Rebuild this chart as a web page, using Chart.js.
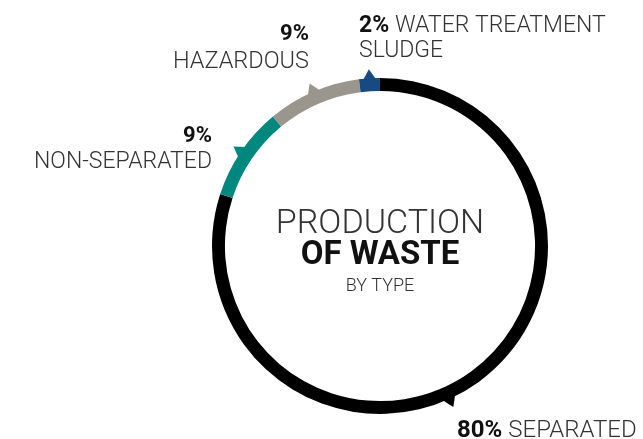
<!DOCTYPE html>
<html>
<head>
<meta charset="utf-8">
<title>Production of waste by type</title>
<script src="https://cdn.jsdelivr.net/npm/chart.js@4/dist/chart.umd.min.js"></script>
<style>
    body { margin: 0; background: #fff; }
    #wrap { width: 643px; height: 439px; }
</style>
</head>
<body>
<div id="wrap"><canvas id="waste" width="643" height="439"></canvas></div>
<script>
// 数据
const categories = ['SEPARATED', 'NON-SEPARATED', 'HAZARDOUS', 'WATER TREATMENT SLUDGE'];
const shares = [80, 9, 9, 2];
const labelLines = [['SEPARATED'], ['NON-SEPARATED'], ['HAZARDOUS'], ['WATER TREATMENT', 'SLUDGE']];
const segmentColors = ['#000000', '#00877e', '#9b968d', '#164a80'];
const centerTitle = ['PRODUCTION', 'OF WASTE', 'BY TYPE'];

const LIGHT = '300 ';
const FONT = '"Roboto", "Open Sans", sans-serif';

// 小三角标记 + 文字
const wastePlugin = {
    id: 'wasteDecor',
    afterDatasetsDraw: function(chart, args, opts) {
        const ctx = chart.ctx;
        const arcs = chart.getDatasetMeta(0).data;
        arcs.forEach((arc, i) => {
            const p = arc.getProps(['x', 'y', 'startAngle', 'endAngle', 'outerRadius']);
            const f = opts.markerAt[i];
            const a = p.startAngle + (p.endAngle - p.startAngle) * f;
            const half = 0.038;
            const r0 = p.outerRadius - 1;
            ctx.save();
            ctx.fillStyle = segmentColors[i];
            ctx.beginPath();
            ctx.moveTo(p.x + Math.cos(a - half) * r0, p.y + Math.sin(a - half) * r0);
            ctx.lineTo(p.x + Math.cos(a - half * 0.6) * (p.outerRadius + 3), p.y + Math.sin(a - half * 0.6) * (p.outerRadius + 3));
            ctx.lineTo(p.x + Math.cos(a) * (p.outerRadius + 9), p.y + Math.sin(a) * (p.outerRadius + 9));
            ctx.lineTo(p.x + Math.cos(a + half * 0.6) * (p.outerRadius + 3), p.y + Math.sin(a + half * 0.6) * (p.outerRadius + 3));
            ctx.lineTo(p.x + Math.cos(a + half) * r0, p.y + Math.sin(a + half) * r0);
            ctx.closePath();
            ctx.fill();
            ctx.restore();
        });
    },
    afterDraw: function(chart) {
        const ctx = chart.ctx;
        const arc = chart.getDatasetMeta(0).data[0];
        const cx = arc.x, cy = arc.y;
        ctx.save();
        ctx.textBaseline = 'alphabetic';

        // 中心标题
        ctx.textAlign = 'center';
        ctx.fillStyle = '#333';
        ctx.font = LIGHT + '34px ' + FONT;
        ctx.fillText(centerTitle[0], cx, cy - 13);
        ctx.fillStyle = '#111';
        ctx.font = 'bold 33px ' + FONT;
        ctx.fillText(centerTitle[1], cx, cy + 18);
        ctx.fillStyle = '#333';
        ctx.font = LIGHT + '18px ' + FONT;
        ctx.fillText(centerTitle[2], cx, cy + 45);

        // 行内标签: 百分比 + 文本
        const inline = function(i, x, y, size, lineGap) {
            ctx.textAlign = 'left';
            ctx.font = 'bold ' + size + 'px ' + FONT;
            ctx.fillStyle = '#111';
            const pct = shares[i] + '%';
            ctx.fillText(pct, x, y);
            const w = ctx.measureText(pct + ' ').width;
            ctx.font = LIGHT + size + 'px ' + FONT;
            ctx.fillStyle = '#333';
            ctx.fillText(labelLines[i][0], x + w, y);
            for (let k = 1; k < labelLines[i].length; k++) {
                ctx.fillText(labelLines[i][k], x, y + lineGap * k);
            }
        };
        // 叠放标签: 百分比在上, 右对齐
        const stacked = function(i, x, y, size, lineGap) {
            ctx.textAlign = 'right';
            ctx.font = 'bold 22px ' + FONT;
            ctx.fillStyle = '#111';
            ctx.fillText(shares[i] + '%', x, y);
            ctx.font = LIGHT + size + 'px ' + FONT;
            ctx.fillStyle = '#333';
            ctx.fillText(labelLines[i][0], x, y + lineGap);
        };

        inline(0, cx + 77, cy + 191, 24, 26);
        stacked(1, cx - 168, cy - 104, 23, 26);
        stacked(2, cx - 71, cy - 206, 23.5, 28);
        inline(3, cx - 21, cy - 214, 23, 25);
        ctx.restore();
    }
};

new Chart(document.getElementById('waste'), {
    type: 'doughnut',
    data: {
        labels: categories,
        datasets: [{
            data: shares,
            backgroundColor: segmentColors,
            borderWidth: 0,
            hoverOffset: 0
        }]
    },
    options: {
        responsive: false,
        animation: false,
        cutout: '92.3%',
        rotation: 0,
        layout: {
            padding: { left: 212, right: 95, top: 78, bottom: 25 }
        },
        plugins: {
            legend: { display: false },
            tooltip: { enabled: false },
            wasteDecor: { markerAt: [0.54, 0.5, 0.5, 0.5] }
        }
    },
    plugins: [wastePlugin]
});
</script>
</body>
</html>
